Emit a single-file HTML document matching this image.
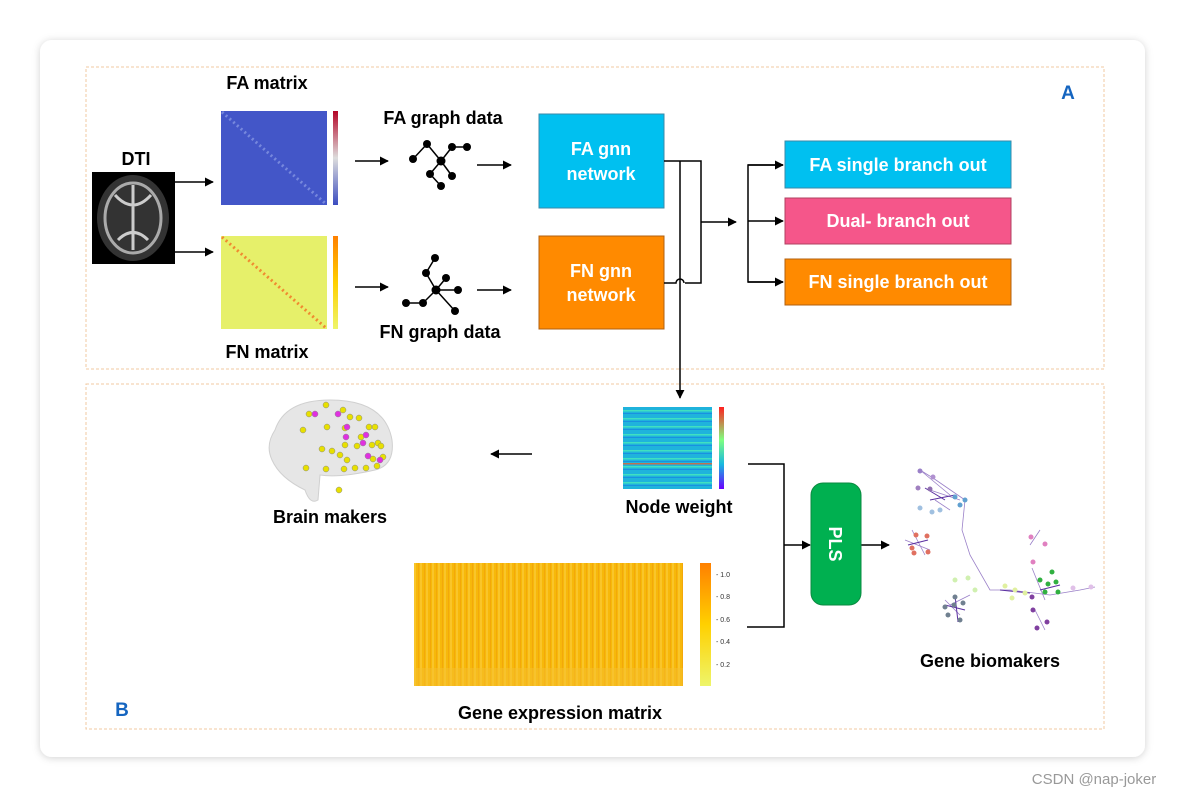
<!DOCTYPE html>
<html><head><meta charset="utf-8"><style>
html,body{margin:0;padding:0;background:#fff;}
svg{display:block;font-family:"Liberation Sans",Arial,sans-serif;}
</style></head><body>
<svg width="1185" height="797" viewBox="0 0 1185 797" xmlns="http://www.w3.org/2000/svg">
<defs>
<marker id="ar" viewBox="0 0 10 10" refX="9" refY="5" markerWidth="9" markerHeight="9" markerUnits="userSpaceOnUse" orient="auto"><path d="M0,0L10,5L0,10z" fill="#000"/></marker>
<filter id="sh" x="-5%" y="-5%" width="110%" height="110%"><feDropShadow dx="0" dy="1" stdDeviation="4" flood-color="#000" flood-opacity="0.18"/></filter>
<linearGradient id="cbFA" x1="0" y1="1" x2="0" y2="0"><stop offset="0" stop-color="#3b4cc0"/><stop offset="0.5" stop-color="#dddddd"/><stop offset="1" stop-color="#b40426"/></linearGradient>
<linearGradient id="cbFN" x1="0" y1="1" x2="0" y2="0"><stop offset="0" stop-color="#eef56a"/><stop offset="0.5" stop-color="#ffd000"/><stop offset="1" stop-color="#ff8000"/></linearGradient>
<linearGradient id="cbNW" x1="0" y1="1" x2="0" y2="0"><stop offset="0" stop-color="#6a00ff"/><stop offset="0.3" stop-color="#18b8e0"/><stop offset="0.6" stop-color="#80ff80"/><stop offset="1" stop-color="#ff2020"/></linearGradient>
<pattern id="stripes" width="89" height="8" patternUnits="userSpaceOnUse"><rect width="89" height="8" fill="#1fb3dc"/><rect y="2" width="89" height="1.5" fill="#40e0c0"/><rect y="5" width="89" height="1" fill="#1a90e0"/></pattern>
<pattern id="gene" width="6" height="6" patternUnits="userSpaceOnUse"><rect width="6" height="6" fill="#f7b80a"/><rect width="2" height="6" fill="#f9c52a"/><rect x="4" width="1" height="6" fill="#f3a80a"/></pattern>
</defs>
<rect width="1185" height="797" fill="#fff"/>
<rect x="40" y="40" width="1105" height="717" rx="12" fill="#fff" filter="url(#sh)"/>
<rect x="86" y="67" width="1018" height="302" fill="none" stroke="#f0c8a0" stroke-dasharray="3,2"/>
<rect x="86" y="384" width="1018" height="345" fill="none" stroke="#f0c8a0" stroke-dasharray="3,2"/>
<text x="1068" y="99" font-size="19" font-weight="bold" fill="#1565c0" text-anchor="middle">A</text>
<text x="122" y="716" font-size="19" font-weight="bold" fill="#1565c0" text-anchor="middle">B</text>

<text x="136" y="165" font-size="18" font-weight="bold" text-anchor="middle">DTI</text>
<rect x="92" y="172" width="83" height="92" fill="#000"/>
<ellipse cx="133" cy="218" rx="36" ry="43" fill="#333"/>
<ellipse cx="133" cy="218" rx="28" ry="35" fill="none" stroke="#aaa" stroke-width="3"/>
<path d="M115,195 Q133,215 151,195 M118,240 Q133,225 148,240 M133,185 L133,250" stroke="#ccc" stroke-width="3" fill="none"/>
<line x1="175" y1="182" x2="213" y2="182" stroke="#000" stroke-width="1.5" marker-end="url(#ar)"/>
<line x1="175" y1="252" x2="213" y2="252" stroke="#000" stroke-width="1.5" marker-end="url(#ar)"/>

<text x="267" y="89" font-size="18" font-weight="bold" text-anchor="middle">FA matrix</text>
<rect x="221" y="111" width="106" height="94" fill="#4356c8"/>
<line x1="222" y1="112" x2="326" y2="204" stroke="#7788dd" stroke-width="3" stroke-dasharray="2,3"/>
<rect x="333" y="111" width="5" height="94" fill="url(#cbFA)"/>
<rect x="221" y="236" width="106" height="93" fill="#e6f06a"/>
<line x1="222" y1="237" x2="326" y2="328" stroke="#f08a30" stroke-width="3" stroke-dasharray="2,3"/>
<rect x="333" y="236" width="5" height="93" fill="url(#cbFN)"/>
<text x="267" y="358" font-size="18" font-weight="bold" text-anchor="middle">FN matrix</text>

<line x1="355" y1="161" x2="388" y2="161" stroke="#000" stroke-width="1.5" marker-end="url(#ar)"/>
<line x1="355" y1="287" x2="388" y2="287" stroke="#000" stroke-width="1.5" marker-end="url(#ar)"/>

<text x="443" y="124" font-size="18" font-weight="bold" text-anchor="middle">FA graph data</text>
<g stroke="#000" stroke-width="1.5" transform="translate(50,0)">
<line x1="363" y1="159" x2="377" y2="144"/><line x1="377" y1="144" x2="391" y2="161"/>
<line x1="391" y1="161" x2="402" y2="147"/><line x1="402" y1="147" x2="417" y2="147"/>
<line x1="391" y1="161" x2="402" y2="176"/><line x1="391" y1="161" x2="380" y2="174"/><line x1="380" y1="174" x2="391" y2="186"/>
</g>
<g fill="#000" transform="translate(50,0)">
<circle cx="363" cy="159" r="4"/><circle cx="377" cy="144" r="4"/><circle cx="391" cy="161" r="4.5"/><circle cx="402" cy="147" r="4"/><circle cx="417" cy="147" r="4"/><circle cx="402" cy="176" r="4"/><circle cx="380" cy="174" r="4"/><circle cx="391" cy="186" r="4"/>
</g>
<g stroke="#000" stroke-width="1.5" transform="translate(50,0)">
<line x1="356" y1="303" x2="373" y2="303"/><line x1="373" y1="303" x2="386" y2="290"/>
<line x1="386" y1="290" x2="376" y2="273"/><line x1="376" y1="273" x2="385" y2="258"/>
<line x1="386" y1="290" x2="396" y2="278"/><line x1="386" y1="290" x2="408" y2="290"/><line x1="386" y1="290" x2="405" y2="311"/>
</g>
<g fill="#000" transform="translate(50,0)">
<circle cx="356" cy="303" r="4"/><circle cx="373" cy="303" r="4"/><circle cx="386" cy="290" r="4.5"/><circle cx="376" cy="273" r="4"/><circle cx="385" cy="258" r="4"/><circle cx="396" cy="278" r="4"/><circle cx="408" cy="290" r="4"/><circle cx="405" cy="311" r="4"/>
</g>
<text x="440" y="338" font-size="18" font-weight="bold" text-anchor="middle">FN graph data</text>

<line x1="477" y1="165" x2="511" y2="165" stroke="#000" stroke-width="1.5" marker-end="url(#ar)"/>
<line x1="477" y1="290" x2="511" y2="290" stroke="#000" stroke-width="1.5" marker-end="url(#ar)"/>

<rect x="539" y="114" width="125" height="94" fill="#00c0f0" stroke="#3a8aa8"/>
<text x="601" y="155" font-size="18" font-weight="bold" fill="#fff" text-anchor="middle">FA gnn</text>
<text x="601" y="180" font-size="18" font-weight="bold" fill="#fff" text-anchor="middle">network</text>
<rect x="539" y="236" width="125" height="93" fill="#ff8a00" stroke="#b06010"/>
<text x="601" y="277" font-size="18" font-weight="bold" fill="#fff" text-anchor="middle">FN gnn</text>
<text x="601" y="301" font-size="18" font-weight="bold" fill="#fff" text-anchor="middle">network</text>

<g stroke="#000" stroke-width="1.5" fill="none">
<polyline points="664,161 701,161 701,283 685,283"/>
<path d="M664,283 L676,283 A4,4 0 0 1 684,283"/>
<line x1="680" y1="161" x2="680" y2="398" marker-end="url(#ar)"/>
<line x1="701" y1="222" x2="736" y2="222" marker-end="url(#ar)"/>
<polyline points="783,165 748,165 748,282 783,282"/>
<line x1="748" y1="165" x2="783" y2="165" marker-end="url(#ar)"/>
<line x1="748" y1="221" x2="783" y2="221" marker-end="url(#ar)"/>
<line x1="748" y1="282" x2="783" y2="282" marker-end="url(#ar)"/>
</g>

<rect x="785" y="141" width="226" height="47" fill="#00c0f0" stroke="#3a8aa8"/>
<text x="898" y="171" font-size="18" font-weight="bold" fill="#fff" text-anchor="middle">FA single branch out</text>
<rect x="785" y="198" width="226" height="46" fill="#f5568a" stroke="#b04060"/>
<text x="898" y="227" font-size="18" font-weight="bold" fill="#fff" text-anchor="middle">Dual- branch out</text>
<rect x="785" y="259" width="226" height="46" fill="#ff8a00" stroke="#b06010"/>
<text x="898" y="288" font-size="18" font-weight="bold" fill="#fff" text-anchor="middle">FN single branch out</text>

<rect x="623" y="407" width="89" height="82" fill="url(#stripes)"/>
<rect x="623" y="463" width="89" height="1.5" fill="#c07050"/>
<rect x="719" y="407" width="5" height="82" fill="url(#cbNW)"/>
<text x="679" y="513" font-size="18" font-weight="bold" text-anchor="middle">Node weight</text>
<line x1="532" y1="454" x2="491" y2="454" stroke="#000" stroke-width="1.5" marker-end="url(#ar)"/>

<path d="M275,430 Q285,400 330,400 Q385,400 392,440 Q395,465 375,470 Q340,478 320,475 L318,500 Q310,505 305,490 Q280,478 272,460 Q265,445 275,430z" fill="#e6e6e6" stroke="#d0d0d0"/>
<g fill="#e8e000" stroke="#888" stroke-width="0.5">
<circle cx="326" cy="405" r="3"/><circle cx="309" cy="414" r="3"/><circle cx="343" cy="410" r="3"/><circle cx="350" cy="417" r="3"/><circle cx="359" cy="418" r="3"/><circle cx="369" cy="427" r="3"/><circle cx="375" cy="427" r="3"/><circle cx="345" cy="428" r="3"/><circle cx="327" cy="427" r="3"/><circle cx="303" cy="430" r="3"/><circle cx="361" cy="437" r="3"/><circle cx="378" cy="443" r="3"/><circle cx="381" cy="446" r="3"/><circle cx="372" cy="445" r="3"/><circle cx="357" cy="446" r="3"/><circle cx="345" cy="445" r="3"/><circle cx="322" cy="449" r="3"/><circle cx="332" cy="451" r="3"/><circle cx="340" cy="455" r="3"/><circle cx="347" cy="460" r="3"/><circle cx="373" cy="459" r="3"/><circle cx="383" cy="457" r="3"/><circle cx="377" cy="466" r="3"/><circle cx="366" cy="468" r="3"/><circle cx="355" cy="468" r="3"/><circle cx="344" cy="469" r="3"/><circle cx="326" cy="469" r="3"/><circle cx="339" cy="490" r="3"/><circle cx="306" cy="468" r="3"/></g>
<g fill="#e030e0" stroke="#888" stroke-width="0.5">
<circle cx="315" cy="414" r="3"/><circle cx="338" cy="414" r="3"/><circle cx="347" cy="427" r="3"/><circle cx="366" cy="435" r="3"/><circle cx="363" cy="443" r="3"/><circle cx="346" cy="437" r="3"/><circle cx="368" cy="456" r="3"/><circle cx="380" cy="460" r="3"/></g>
<text x="330" y="523" font-size="18" font-weight="bold" text-anchor="middle">Brain makers</text>

<rect x="414" y="563" width="269" height="123" fill="url(#gene)"/>
<rect x="414" y="668" width="269" height="18" fill="#f5c030" opacity="0.5"/>
<rect x="700" y="563" width="11" height="123" fill="url(#cbFN)"/>
<g font-size="7" fill="#333"><text x="716" y="577">- 1.0</text><text x="716" y="599">- 0.8</text><text x="716" y="622">- 0.6</text><text x="716" y="644">- 0.4</text><text x="716" y="667">- 0.2</text></g>
<text x="560" y="719" font-size="18" font-weight="bold" text-anchor="middle">Gene expression matrix</text>

<g stroke="#000" stroke-width="1.5" fill="none">
<polyline points="748,464 784,464 784,627 747,627"/>
<line x1="784" y1="545" x2="810" y2="545" marker-end="url(#ar)"/>
<line x1="861" y1="545" x2="889" y2="545" marker-end="url(#ar)"/>
</g>
<rect x="811" y="483" width="50" height="122" rx="12" fill="#00b050" stroke="#0a8a40"/>
<text transform="translate(829,544) rotate(90)" font-size="18" font-weight="bold" fill="#fff" text-anchor="middle">PLS</text>

<g stroke="#9a80c8" stroke-width="0.8" fill="none">
<polyline points="920,470 933,478 965,500 962,530 970,555 990,590 1010,590 1050,595 1080,590 1095,587"/>
<line x1="930" y1="490" x2="960" y2="500"/><line x1="920" y1="470" x2="950" y2="495"/>
<line x1="935" y1="500" x2="950" y2="510"/><line x1="905" y1="540" x2="930" y2="550"/><line x1="912" y1="530" x2="925" y2="555"/>
<line x1="950" y1="605" x2="970" y2="595"/><line x1="945" y1="600" x2="960" y2="615"/>
<line x1="1032" y1="568" x2="1045" y2="600"/><line x1="1040" y1="530" x2="1030" y2="545"/><line x1="1035" y1="610" x2="1045" y2="630"/>
</g>
<g stroke="#5a2ea0" stroke-width="1">
<line x1="925" y1="488" x2="945" y2="500"/><line x1="930" y1="500" x2="955" y2="495"/><line x1="908" y1="545" x2="928" y2="540"/><line x1="945" y1="605" x2="965" y2="610"/><line x1="955" y1="595" x2="958" y2="622"/><line x1="1040" y1="590" x2="1060" y2="585"/><line x1="1000" y1="590" x2="1030" y2="593"/></g>
<g>
<circle cx="920" cy="471" r="2.5" fill="#9a80c8"/><circle cx="933" cy="477" r="2.5" fill="#b090d0"/><circle cx="918" cy="488" r="2.5" fill="#a080c0"/><circle cx="930" cy="489" r="2.5" fill="#9070b0"/><circle cx="955" cy="497" r="2.5" fill="#60a0d0"/><circle cx="965" cy="500" r="2.5" fill="#60a0d0"/><circle cx="960" cy="505" r="2.5" fill="#60a0d0"/><circle cx="940" cy="510" r="2.5" fill="#a0c0e0"/><circle cx="932" cy="512" r="2.5" fill="#a0c0e0"/><circle cx="920" cy="508" r="2.5" fill="#a0c0e0"/>
<circle cx="916" cy="535" r="2.5" fill="#e07060"/><circle cx="927" cy="536" r="2.5" fill="#e07060"/><circle cx="912" cy="548" r="2.5" fill="#e07060"/><circle cx="928" cy="552" r="2.5" fill="#e07060"/><circle cx="914" cy="553" r="2.5" fill="#e07060"/>
<circle cx="954" cy="605" r="2.5" fill="#708090"/><circle cx="945" cy="607" r="2.5" fill="#708090"/><circle cx="963" cy="603" r="2.5" fill="#708090"/><circle cx="960" cy="620" r="2.5" fill="#708090"/><circle cx="948" cy="615" r="2.5" fill="#708090"/><circle cx="955" cy="597" r="2.5" fill="#708090"/>
<circle cx="955" cy="580" r="2.5" fill="#d0f0b0"/><circle cx="968" cy="578" r="2.5" fill="#d0f0b0"/><circle cx="975" cy="590" r="2.5" fill="#d0f0b0"/>
<circle cx="1005" cy="586" r="2.5" fill="#e0f0a0"/><circle cx="1015" cy="590" r="2.5" fill="#e0f0a0"/><circle cx="1025" cy="593" r="2.5" fill="#e0f0a0"/><circle cx="1012" cy="598" r="2.5" fill="#e0f0a0"/>
<circle cx="1040" cy="580" r="2.5" fill="#30b040"/><circle cx="1048" cy="584" r="2.5" fill="#30b040"/><circle cx="1056" cy="582" r="2.5" fill="#30b040"/><circle cx="1045" cy="592" r="2.5" fill="#30b040"/><circle cx="1058" cy="592" r="2.5" fill="#30b040"/><circle cx="1052" cy="572" r="2.5" fill="#30b040"/>
<circle cx="1031" cy="537" r="2.5" fill="#e080c0"/><circle cx="1045" cy="544" r="2.5" fill="#e080c0"/><circle cx="1033" cy="562" r="2.5" fill="#e080c0"/>
<circle cx="1032" cy="597" r="2.5" fill="#8040a0"/><circle cx="1033" cy="610" r="2.5" fill="#8040a0"/><circle cx="1037" cy="628" r="2.5" fill="#8040a0"/><circle cx="1047" cy="622" r="2.5" fill="#8040a0"/>
<circle cx="1073" cy="588" r="2.5" fill="#e0c0e8"/><circle cx="1091" cy="587" r="2.5" fill="#e0c0e8"/>
</g>
<text x="990" y="667" font-size="18" font-weight="bold" text-anchor="middle">Gene biomakers</text>

<text x="1094" y="784" font-size="15" fill="#999" text-anchor="middle">CSDN @nap-joker</text>
</svg>
</body></html>
